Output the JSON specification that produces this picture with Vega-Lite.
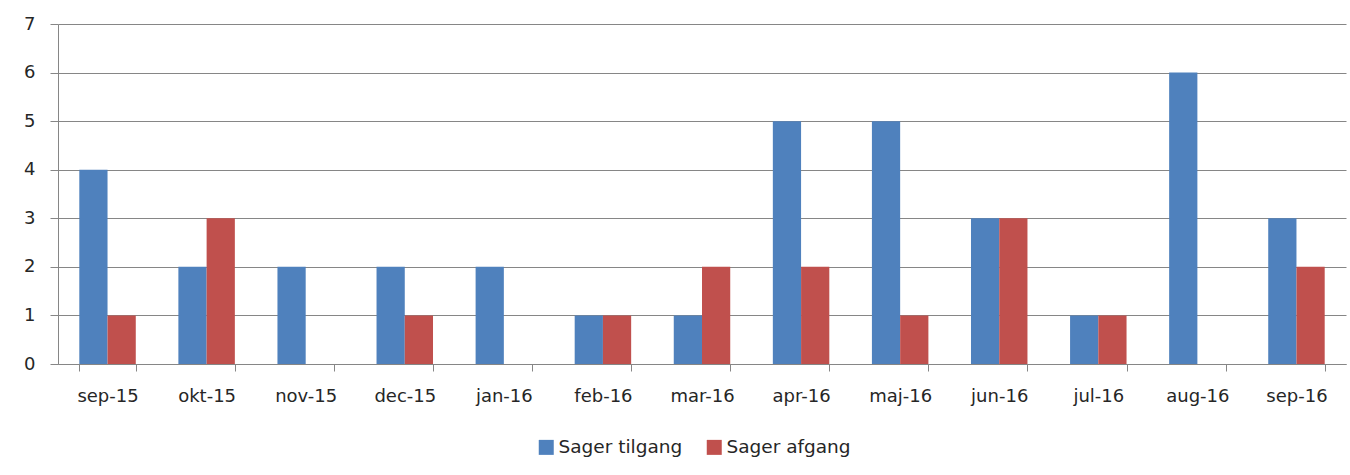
{
  "$schema": "https://vega.github.io/schema/vega-lite/v6.json",
  "width": 1288,
  "height": 340,
  "autosize": {"type": "none"},
  "padding": {"left": 58, "top": 24, "right": 4, "bottom": 111},
  "background": "white",
  "data": {
    "values": [
      {"maaned": "sep-15", "serie": "Sager tilgang", "antal": 4},
      {"maaned": "sep-15", "serie": "Sager afgang", "antal": 1},
      {"maaned": "okt-15", "serie": "Sager tilgang", "antal": 2},
      {"maaned": "okt-15", "serie": "Sager afgang", "antal": 3},
      {"maaned": "nov-15", "serie": "Sager tilgang", "antal": 2},
      {"maaned": "nov-15", "serie": "Sager afgang", "antal": 0},
      {"maaned": "dec-15", "serie": "Sager tilgang", "antal": 2},
      {"maaned": "dec-15", "serie": "Sager afgang", "antal": 1},
      {"maaned": "jan-16", "serie": "Sager tilgang", "antal": 2},
      {"maaned": "jan-16", "serie": "Sager afgang", "antal": 0},
      {"maaned": "feb-16", "serie": "Sager tilgang", "antal": 1},
      {"maaned": "feb-16", "serie": "Sager afgang", "antal": 1},
      {"maaned": "mar-16", "serie": "Sager tilgang", "antal": 1},
      {"maaned": "mar-16", "serie": "Sager afgang", "antal": 2},
      {"maaned": "apr-16", "serie": "Sager tilgang", "antal": 5},
      {"maaned": "apr-16", "serie": "Sager afgang", "antal": 2},
      {"maaned": "maj-16", "serie": "Sager tilgang", "antal": 5},
      {"maaned": "maj-16", "serie": "Sager afgang", "antal": 1},
      {"maaned": "jun-16", "serie": "Sager tilgang", "antal": 3},
      {"maaned": "jun-16", "serie": "Sager afgang", "antal": 3},
      {"maaned": "jul-16", "serie": "Sager tilgang", "antal": 1},
      {"maaned": "jul-16", "serie": "Sager afgang", "antal": 1},
      {"maaned": "aug-16", "serie": "Sager tilgang", "antal": 6},
      {"maaned": "aug-16", "serie": "Sager afgang", "antal": 0},
      {"maaned": "sep-16", "serie": "Sager tilgang", "antal": 3},
      {"maaned": "sep-16", "serie": "Sager afgang", "antal": 2}
    ]
  },
  "mark": {"type": "bar"},
  "encoding": {
    "x": {
      "field": "maaned",
      "type": "nominal",
      "sort": null,
      "scale": {"paddingInner": 0.43, "paddingOuter": 0.215},
      "axis": {
        "title": null,
        "labelAngle": 0,
        "labelFont": "DejaVu Sans",
        "labelFontSize": 18,
        "labelColor": "#262626",
        "labelPadding": 16,
        "tickBand": "extent",
        "tickSize": 7,
        "tickColor": "#868686",
        "domainColor": "#868686",
        "grid": false
      }
    },
    "xOffset": {
      "field": "serie",
      "type": "nominal",
      "sort": ["Sager tilgang", "Sager afgang"],
      "scale": {"paddingInner": 0, "paddingOuter": 0}
    },
    "y": {
      "field": "antal",
      "type": "quantitative",
      "scale": {"domain": [0, 7], "nice": false},
      "axis": {
        "title": null,
        "values": [0, 1, 2, 3, 4, 5, 6, 7],
        "labelOverlap": false,
        "labelFont": "DejaVu Sans",
        "labelFontSize": 18,
        "labelColor": "#262626",
        "labelPadding": 15,
        "tickSize": 8,
        "tickColor": "#868686",
        "domainColor": "#868686",
        "gridColor": "#868686",
        "gridOpacity": 1
      }
    },
    "color": {
      "field": "serie",
      "type": "nominal",
      "sort": ["Sager tilgang", "Sager afgang"],
      "scale": {"domain": ["Sager tilgang", "Sager afgang"], "range": ["#4F81BD", "#C0504D"]},
      "legend": {
        "title": null,
        "orient": "none",
        "direction": "horizontal",
        "legendX": 479,
        "legendY": 414,
        "symbolType": "square",
        "symbolSize": 225,
        "symbolStrokeWidth": 0,
        "labelOffset": 3,
        "labelFont": "DejaVu Sans",
        "labelFontSize": 18.5,
        "labelColor": "#262626",
        "columnPadding": 22
      }
    }
  },
  "config": {
    "view": {"stroke": null}
  }
}
